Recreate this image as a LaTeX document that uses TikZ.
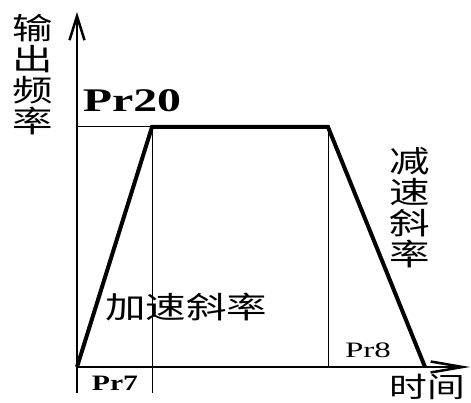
\documentclass[tikz,border=0pt]{standalone}
\usepackage{fontspec}
\setmainfont{Liberation Serif}
\newfontfamily\cjk{Noto Sans CJK SC}
\usetikzlibrary{arrows.meta}
\tikzset{
  thinline/.style={line width=1pt},
  label cjk/.style={font=\fontsize{30}{31}\selectfont\cjk, xscale=1.35, align=center, inner sep=0pt},
  label pr/.style={inner sep=0pt}
}
\begin{document}
\begin{tikzpicture}[x=1pt, y=-1pt]
\useasboundingbox (0,0) rectangle (471,403);
% points
\coordinate (O) at (77,367);
\coordinate (Ytop) at (77,12);
\coordinate (Ybot) at (77,393);
\coordinate (Xend) at (470,367);
\coordinate (L) at (77,127);
\coordinate (A) at (152,127);
\coordinate (B) at (328,127);
\coordinate (C) at (425,367);
\coordinate (Abot) at (152,393);
\coordinate (Bbot) at (328,367);

% axes
\draw[line width=2pt,-{Straight Barb[length=24pt,width=15pt,line width=2.5pt]}] (Ybot) -- (Ytop);
\draw[line width=2pt,-{Straight Barb[length=32pt,width=11pt,line width=2.5pt]}] (O) -- (Xend);

% guides
\draw[thinline] (L) -- (A) -- (Abot);
\draw[thinline] (B) -- (Bbot);

% trapezoid
\draw[line width=4pt, line join=miter] (O) -- (A) -- (B) -- (C);

% labels
\node[label cjk] (freq) at (33,75) {输\\出\\频\\率};
\node[label cjk] (decel) at (410,208) {减\\速\\斜\\率};
\node[label cjk] (accel) at (186,307) {加速斜率};
\node[label pr, font=\fontsize{33}{33}\selectfont\bfseries, xscale=1.45] (pr20) at (132,101) {Pr20};
\node[label pr, font=\fontsize{22}{22}\selectfont\bfseries, xscale=1.35] (pr7) at (115,383) {Pr7};
\node[label pr, font=\fontsize{22}{22}\selectfont, xscale=1.5] (pr8) at (368,350) {Pr8};
\node[label cjk, font=\fontsize{28}{29}\selectfont\cjk] (time) at (427,387) {时间};
\end{tikzpicture}
\end{document}
